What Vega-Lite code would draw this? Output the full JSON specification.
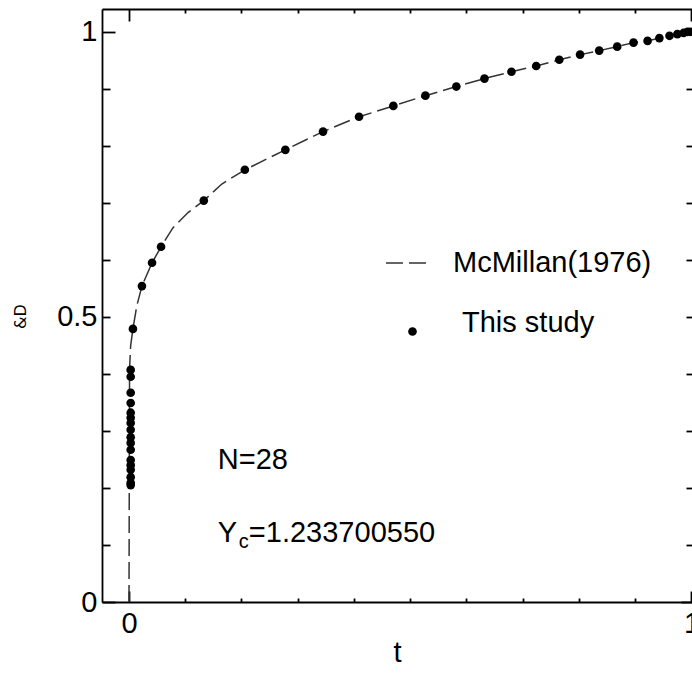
{
  "$schema": "https://vega.github.io/schema/vega-lite/v6.json",
  "width": 590,
  "height": 593,
  "autosize": {"type": "none"},
  "padding": {"left": 102, "top": 9, "right": 0, "bottom": 93},
  "background": "white",
  "config": {
    "view": {"stroke": null},
    "font": "Liberation Sans",
    "axis": {
      "grid": false,
      "labelFont": "Liberation Sans",
      "titleFont": "Liberation Sans",
      "labelColor": "black",
      "titleColor": "black",
      "tickColor": "black",
      "domainColor": "black",
      "tickWidth": 1.8,
      "domainWidth": 1.8,
      "labelFlush": false,
      "labelOverlap": false,
      "labelBound": false,
      "titleFontWeight": "normal",
      "labelFontSize": 29
    },
    "legend": {
      "orient": "none",
      "direction": "vertical",
      "padding": 0,
      "labelFont": "Liberation Sans",
      "labelFontSize": 29,
      "labelColor": "black",
      "labelLimit": 400
    }
  },
  "datasets": {
    "mcmillan": [
      {"t": 0, "D": 0, "series": "McMillan(1976)"},
      {"t": 0.001, "D": 0.41, "series": "McMillan(1976)"},
      {"t": 0.003, "D": 0.45, "series": "McMillan(1976)"},
      {"t": 0.007, "D": 0.479, "series": "McMillan(1976)"},
      {"t": 0.014, "D": 0.52, "series": "McMillan(1976)"},
      {"t": 0.023, "D": 0.554, "series": "McMillan(1976)"},
      {"t": 0.041, "D": 0.595, "series": "McMillan(1976)"},
      {"t": 0.057, "D": 0.623, "series": "McMillan(1976)"},
      {"t": 0.078, "D": 0.656, "series": "McMillan(1976)"},
      {"t": 0.105, "D": 0.683, "series": "McMillan(1976)"},
      {"t": 0.133, "D": 0.704, "series": "McMillan(1976)"},
      {"t": 0.165, "D": 0.733, "series": "McMillan(1976)"},
      {"t": 0.206, "D": 0.758, "series": "McMillan(1976)"},
      {"t": 0.278, "D": 0.793, "series": "McMillan(1976)"},
      {"t": 0.345, "D": 0.825, "series": "McMillan(1976)"},
      {"t": 0.409, "D": 0.851, "series": "McMillan(1976)"},
      {"t": 0.470, "D": 0.870, "series": "McMillan(1976)"},
      {"t": 0.527, "D": 0.888, "series": "McMillan(1976)"},
      {"t": 0.582, "D": 0.904, "series": "McMillan(1976)"},
      {"t": 0.632, "D": 0.918, "series": "McMillan(1976)"},
      {"t": 0.680, "D": 0.930, "series": "McMillan(1976)"},
      {"t": 0.724, "D": 0.940, "series": "McMillan(1976)"},
      {"t": 0.765, "D": 0.951, "series": "McMillan(1976)"},
      {"t": 0.802, "D": 0.960, "series": "McMillan(1976)"},
      {"t": 0.836, "D": 0.967, "series": "McMillan(1976)"},
      {"t": 0.868, "D": 0.974, "series": "McMillan(1976)"},
      {"t": 0.897, "D": 0.981, "series": "McMillan(1976)"},
      {"t": 0.922, "D": 0.984, "series": "McMillan(1976)"},
      {"t": 0.943, "D": 0.989, "series": "McMillan(1976)"},
      {"t": 0.961, "D": 0.993, "series": "McMillan(1976)"},
      {"t": 0.975, "D": 0.996, "series": "McMillan(1976)"},
      {"t": 0.986, "D": 0.998, "series": "McMillan(1976)"},
      {"t": 1.0, "D": 1.0, "series": "McMillan(1976)"}
    ],
    "study": [
      {"t": 0.003, "D": 0.407, "series": "This study"},
      {"t": 0.003, "D": 0.395, "series": "This study"},
      {"t": 0.003, "D": 0.367, "series": "This study"},
      {"t": 0.003, "D": 0.349, "series": "This study"},
      {"t": 0.003, "D": 0.332, "series": "This study"},
      {"t": 0.003, "D": 0.323, "series": "This study"},
      {"t": 0.003, "D": 0.314, "series": "This study"},
      {"t": 0.003, "D": 0.302, "series": "This study"},
      {"t": 0.003, "D": 0.289, "series": "This study"},
      {"t": 0.003, "D": 0.279, "series": "This study"},
      {"t": 0.003, "D": 0.267, "series": "This study"},
      {"t": 0.003, "D": 0.249, "series": "This study"},
      {"t": 0.003, "D": 0.240, "series": "This study"},
      {"t": 0.003, "D": 0.232, "series": "This study"},
      {"t": 0.003, "D": 0.219, "series": "This study"},
      {"t": 0.003, "D": 0.209, "series": "This study"},
      {"t": 0.003, "D": 0.205, "series": "This study"},
      {"t": 0.007, "D": 0.479, "series": "This study"},
      {"t": 0.023, "D": 0.554, "series": "This study"},
      {"t": 0.041, "D": 0.595, "series": "This study"},
      {"t": 0.057, "D": 0.623, "series": "This study"},
      {"t": 0.133, "D": 0.704, "series": "This study"},
      {"t": 0.206, "D": 0.758, "series": "This study"},
      {"t": 0.278, "D": 0.793, "series": "This study"},
      {"t": 0.345, "D": 0.825, "series": "This study"},
      {"t": 0.409, "D": 0.851, "series": "This study"},
      {"t": 0.470, "D": 0.870, "series": "This study"},
      {"t": 0.527, "D": 0.888, "series": "This study"},
      {"t": 0.582, "D": 0.904, "series": "This study"},
      {"t": 0.632, "D": 0.918, "series": "This study"},
      {"t": 0.680, "D": 0.930, "series": "This study"},
      {"t": 0.724, "D": 0.940, "series": "This study"},
      {"t": 0.765, "D": 0.951, "series": "This study"},
      {"t": 0.802, "D": 0.960, "series": "This study"},
      {"t": 0.836, "D": 0.967, "series": "This study"},
      {"t": 0.868, "D": 0.974, "series": "This study"},
      {"t": 0.897, "D": 0.981, "series": "This study"},
      {"t": 0.922, "D": 0.984, "series": "This study"},
      {"t": 0.943, "D": 0.989, "series": "This study"},
      {"t": 0.961, "D": 0.993, "series": "This study"},
      {"t": 0.975, "D": 0.996, "series": "This study"},
      {"t": 0.986, "D": 0.998, "series": "This study"},
      {"t": 0.993, "D": 1.0, "series": "This study"},
      {"t": 0.998, "D": 1.0, "series": "This study"}
    ]
  },
  "layer": [
    {
      "data": {"name": "mcmillan"},
      "mark": {"type": "line", "strokeWidth": 1.5, "opacity": 1, "color": "#333333"},
      "encoding": {
        "x": {
          "field": "t", "type": "quantitative",
          "scale": {"domain": [-0.048, 1.001], "nice": false, "zero": false},
          "axis": {
            "orient": "bottom",
            "values": [0, 0.1, 0.2, 0.3, 0.4, 0.5, 0.6, 0.7, 0.8, 0.9, 1],
            "labelExpr": "datum.value == 0 ? '0' : datum.value == 1 ? '1' : ''",
            "tickSize": {"condition": {"test": "datum.value == 0 || datum.value == 1", "value": -11}, "value": -4},
            "labelPadding": 18,
            "title": "t",
            "titleFontSize": 29,
            "titleColor": "black",
            "titleX": 295,
            "titleY": 59,
            "titleAlign": "center",
            "titleBaseline": "alphabetic"
          }
        },
        "y": {
          "field": "D", "type": "quantitative",
          "scale": {"domain": [0, 1.04], "nice": false, "zero": false},
          "axis": {
            "orient": "left",
            "values": [0, 0.1, 0.2, 0.3, 0.4, 0.5, 0.6, 0.7, 0.8, 0.9, 1],
            "labelExpr": "datum.value == 0 ? '0' : datum.value == 0.5 ? '0.5' : datum.value == 1 ? '1' : ''",
            "tickSize": {"condition": {"test": "datum.value == 0 || datum.value == 1", "value": -13}, "value": -8},
            "labelPadding": {"condition": {"test": "datum.value == 0 || datum.value == 1", "value": 18}, "value": 13},
            "title": "&D",
            "titleFont": "DejaVu Sans",
            "titleFontSize": 16,
            "titleColor": "#000000",
            "titleAngle": -90,
            "titleX": -82,
            "titleY": 307,
            "titleAlign": "center",
            "titleBaseline": "middle"
          }
        },
        "strokeDash": {
          "field": "series", "type": "nominal",
          "scale": {"domain": ["McMillan(1976)"], "range": [[17, 6]]},
          "legend": {
            "title": null,
            "legendX": 283,
            "legendY": 232,
            "symbolType": "stroke",
            "symbolSize": 1764,
            "symbolStrokeWidth": 1.5,
            "symbolStrokeColor": "#333333",
            "symbolOpacity": 1,
            "labelOffset": 24
          }
        }
      }
    },
    {
      "data": {"name": "study"},
      "mark": {"type": "point", "filled": true, "size": 75, "opacity": 1, "color": "#000000"},
      "encoding": {
        "x": {
          "field": "t", "type": "quantitative",
          "scale": {"domain": [-0.048, 1.001], "nice": false, "zero": false},
          "axis": {
            "orient": "top",
            "values": [0, 0.1, 0.2, 0.3, 0.4, 0.5, 0.6, 0.7, 0.8, 0.9, 1],
            "labels": false,
            "tickSize": {"condition": {"test": "datum.value == 0 || datum.value == 1", "value": -12}, "value": -4},
            "title": null
          }
        },
        "y": {
          "field": "D", "type": "quantitative",
          "scale": {"domain": [0, 1.04], "nice": false, "zero": false},
          "axis": {
            "orient": "right",
            "values": [0, 0.1, 0.2, 0.3, 0.4, 0.5, 0.6, 0.7, 0.8, 0.9, 1],
            "labels": false,
            "domain": false,
            "offset": 2,
            "tickSize": {"condition": {"test": "datum.value == 0 || datum.value == 1", "value": -13}, "value": -8},
            "title": null
          }
        },
        "shape": {
          "field": "series", "type": "nominal",
          "scale": {"domain": ["This study"], "range": ["circle"]},
          "legend": {
            "title": null,
            "legendX": 296,
            "legendY": 308,
            "symbolSize": 75,
            "symbolFillColor": "#000000",
            "symbolStrokeWidth": 0,
            "symbolOpacity": 1,
            "labelOffset": 35,
            "labelBaseline": "alphabetic"
          }
        }
      }
    },
    {
      "data": {"values": [{"t": 0.158, "D": 0.233, "text": "N=28"}, {"t": 0.158, "D": 0.105, "text": "Y"}]},
      "mark": {"type": "text", "align": "left", "baseline": "alphabetic", "fontSize": 29, "font": "Liberation Sans", "color": "black"},
      "encoding": {
        "x": {"field": "t", "type": "quantitative", "scale": {"domain": [-0.048, 1.001], "nice": false, "zero": false}, "axis": null},
        "y": {"field": "D", "type": "quantitative", "scale": {"domain": [0, 1.04], "nice": false, "zero": false}, "axis": null},
        "text": {"field": "text"}
      }
    },
    {
      "data": {"values": [{"t": 0.158, "D": 0.105, "text": "c"}]},
      "mark": {"type": "text", "align": "left", "baseline": "alphabetic", "fontSize": 20, "font": "Liberation Sans", "color": "black", "dx": 21, "dy": 6},
      "encoding": {
        "x": {"field": "t", "type": "quantitative", "scale": {"domain": [-0.048, 1.001], "nice": false, "zero": false}, "axis": null},
        "y": {"field": "D", "type": "quantitative", "scale": {"domain": [0, 1.04], "nice": false, "zero": false}, "axis": null},
        "text": {"field": "text"}
      }
    },
    {
      "data": {"values": [{"t": 0.158, "D": 0.105, "text": "=1.233700550"}]},
      "mark": {"type": "text", "align": "left", "baseline": "alphabetic", "fontSize": 29, "font": "Liberation Sans", "color": "black", "dx": 31},
      "encoding": {
        "x": {"field": "t", "type": "quantitative", "scale": {"domain": [-0.048, 1.001], "nice": false, "zero": false}, "axis": null},
        "y": {"field": "D", "type": "quantitative", "scale": {"domain": [0, 1.04], "nice": false, "zero": false}, "axis": null},
        "text": {"field": "text"}
      }
    }
  ],
  "resolve": {"axis": {"x": "independent", "y": "independent"}}
}
